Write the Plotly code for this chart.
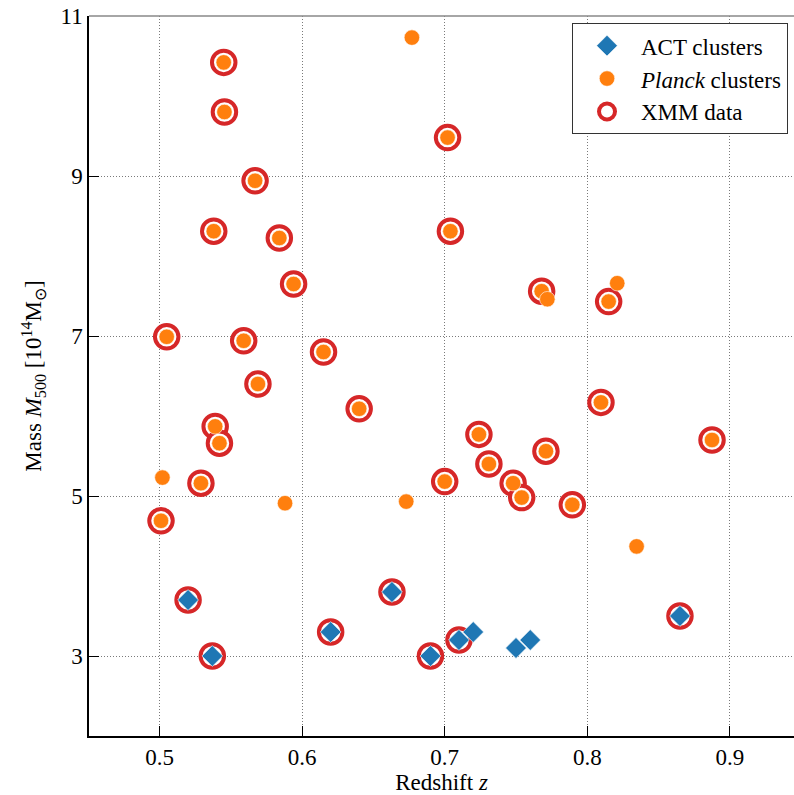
import plotly.graph_objects as go

# ACT clusters (blue diamonds)
act_z = [0.520, 0.537, 0.620, 0.663, 0.690, 0.710, 0.720, 0.750, 0.760, 0.865]
act_M = [3.70, 3.00, 3.30, 3.80, 3.00, 3.20, 3.30, 3.10, 3.20, 3.50]

# Planck clusters (orange circles)
planck_z = [0.545, 0.5455, 0.677, 0.702, 0.567, 0.538, 0.584, 0.594, 0.505, 0.559,
            0.615, 0.704, 0.768, 0.772, 0.821, 0.815, 0.569, 0.640, 0.539, 0.542,
            0.502, 0.529, 0.588, 0.673, 0.501, 0.700, 0.724, 0.731, 0.771, 0.748,
            0.754, 0.7895, 0.8096, 0.8875, 0.8346]
planck_M = [10.42, 9.80, 10.73, 9.48, 8.94, 8.31, 8.225, 7.65, 6.99, 6.94,
            6.80, 8.31, 7.56, 7.46, 7.66, 7.43, 6.40, 6.09, 5.87, 5.66,
            5.23, 5.16, 4.91, 4.93, 4.69, 5.18, 5.77, 5.40, 5.56, 5.16,
            4.98, 4.89, 6.17, 5.70, 4.37]

# XMM data (red open rings)
xmm_z = [0.545, 0.5455, 0.702, 0.567, 0.538, 0.584, 0.594, 0.505, 0.559, 0.615,
         0.704, 0.768, 0.815, 0.569, 0.640, 0.539, 0.542, 0.529, 0.501, 0.700,
         0.724, 0.731, 0.771, 0.748, 0.754, 0.7895, 0.8096, 0.8875,
         0.520, 0.537, 0.620, 0.663, 0.690, 0.710, 0.865]
xmm_M = [10.42, 9.80, 9.48, 8.94, 8.31, 8.225, 7.65, 6.99, 6.94, 6.80,
         8.31, 7.56, 7.43, 6.40, 6.09, 5.87, 5.66, 5.16, 4.69, 5.18,
         5.77, 5.40, 5.56, 5.16, 4.98, 4.89, 6.17, 5.70,
         3.70, 3.00, 3.30, 3.80, 3.00, 3.20, 3.50]

x_ticks = [0.5, 0.6, 0.7, 0.8, 0.9]
x_ticktext = ["0.5", "0.6", "0.7", "0.8", "0.9"]
y_ticks = [3, 5, 7, 9, 11]
y_ticktext = ["3", "5", "7", "9", "11"]

FONT = "Liberation Serif, Times New Roman, serif"
FS = 23

fig = go.Figure()
fig.add_trace(go.Scatter(
    x=xmm_z, y=xmm_M, mode="markers", name="XMM data", legendrank=3,
    marker=dict(symbol="circle", size=23.5, color="white",
                line=dict(color="#d62728", width=4))))
fig.add_trace(go.Scatter(
    x=act_z, y=act_M, mode="markers", name="ACT clusters", legendrank=1,
    marker=dict(symbol="diamond", size=16, color="#1f77b4",
                line=dict(color="white", width=0.6))))
fig.add_trace(go.Scatter(
    x=planck_z, y=planck_M, mode="markers", name="<i>Planck</i> clusters", legendrank=2,
    marker=dict(symbol="circle", size=15.5, color="#ff7f0e",
                line=dict(color="white", width=0.6))))

axis_common = dict(
    ticks="inside", ticklen=10, tickwidth=1.2, tickcolor="black",
    showline=True, linecolor="black", linewidth=1.5,
    showgrid=True, gridcolor="#7a7a7a", gridwidth=1, griddash="1px,2px",
    zeroline=False, tickfont=dict(family=FONT, size=FS, color="black"),
)

fig.update_layout(
    width=794, height=795,
    margin=dict(l=89, r=0, t=16, b=59),
    paper_bgcolor="white", plot_bgcolor="white",
    font=dict(family=FONT, size=FS, color="black"),
    xaxis=dict(range=[0.4505, 0.945], tickvals=x_ticks, ticktext=x_ticktext,
               title=dict(text="Redshift <i>z</i>", standoff=4,
                          font=dict(family=FONT, size=FS)),
               automargin=False, **axis_common),
    yaxis=dict(range=[2, 11], tickvals=y_ticks, ticktext=y_ticktext,
               title=dict(text="Mass <i>M</i><sub>500</sub> [10<sup>14</sup>M<sub>⊙</sub>]",
                          standoff=12, font=dict(family=FONT, size=FS)),
               automargin=False, **axis_common),
    legend=dict(x=0.9915, xanchor="right", y=0.99, yanchor="top",
                bgcolor="white", bordercolor="#333333", borderwidth=1,
                itemwidth=58,
                font=dict(family=FONT, size=FS, color="black")),
    showlegend=True,
    shapes=[dict(type="line", xref="paper", yref="paper", x0=0, x1=1, y0=1, y1=1,
                 line=dict(color="#888888", width=1.5))],
)

fig.write_html("out.html")
